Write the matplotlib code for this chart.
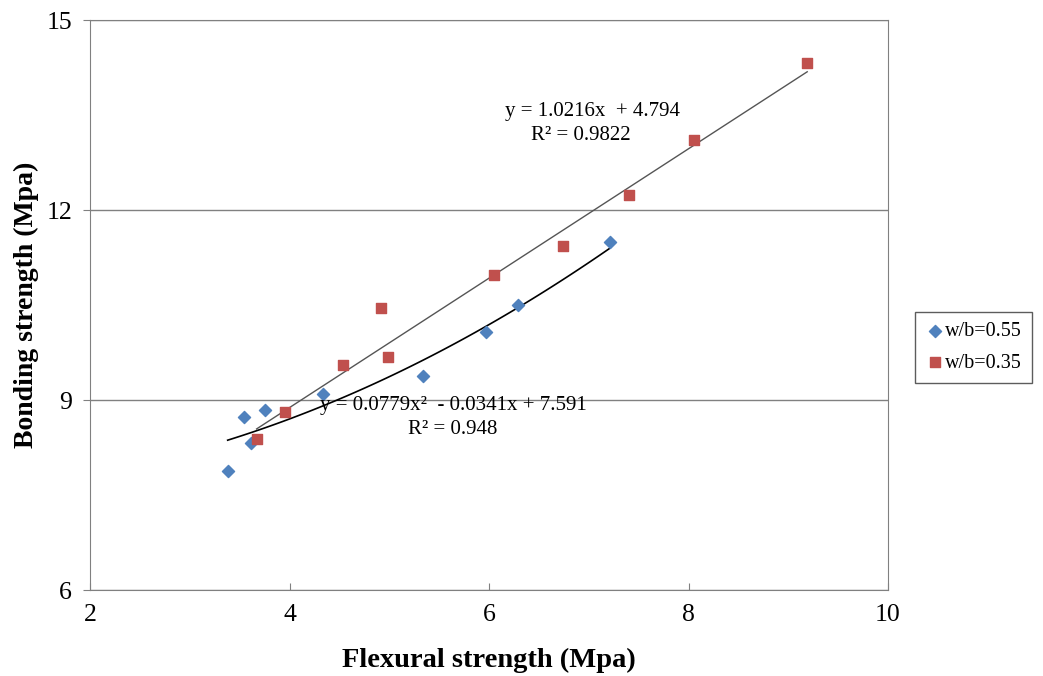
import numpy as np
import matplotlib.pyplot as plt

plt.rcParams['font.family'] = ['Liberation Serif', 'DejaVu Serif']

# w/b = 0.55
x55 = [3.38, 3.54, 3.61, 3.75, 4.34, 5.34, 5.97, 6.29, 7.21]
y55 = [7.88, 8.73, 8.32, 8.84, 9.09, 9.38, 10.07, 10.50, 11.49]
# w/b = 0.35
x35 = [3.67, 3.95, 4.54, 4.92, 4.99, 6.05, 6.74, 7.40, 8.06, 9.19]
y35 = [8.38, 8.81, 9.55, 10.45, 9.68, 10.97, 11.43, 12.24, 13.11, 14.32]

lin_coef = [1.0216, 4.794]
quad_coef = [0.0779, -0.0341, 7.591]

fig = plt.figure(figsize=(10.43, 6.76), dpi=100)
ax = fig.add_axes([0.0863, 0.1272, 0.7651, 0.8432])

ax.scatter(x55, y55, marker='D', s=38, color='#4F81BD', label='w/b=0.55', zorder=3)
ax.scatter(x35, y35, marker='s', s=55, color='#C0504D', label='w/b=0.35', zorder=3)

xl = np.linspace(min(x35), max(x35), 50)
ax.plot(xl, np.polyval(lin_coef, xl), color='#555555', lw=1.0, zorder=2)
xq = np.linspace(min(x55), max(x55), 100)
ax.plot(xq, np.polyval(quad_coef, xq), color='black', lw=1.2, zorder=2)

ax.text(7.04, 13.55, 'y = 1.0216x  + 4.794', ha='center', va='center', fontsize=15)
ax.text(6.92, 13.17, 'R² = 0.9822', ha='center', va='center', fontsize=15)
ax.text(5.64, 8.92, 'y = 0.0779x²  - 0.0341x + 7.591', ha='center', va='center', fontsize=15)
ax.text(5.64, 8.54, 'R² = 0.948', ha='center', va='center', fontsize=15)

ax.set_xlim(2, 10)
ax.set_ylim(6, 15)
ax.set_xticks([2, 4, 6, 8, 10])
ax.set_yticks([6, 9, 12, 15])
ax.yaxis.grid(True, color='#808080', lw=1.0)
ax.set_axisbelow(True)
for s in ax.spines.values():
    s.set_color('#808080')
ax.tick_params(axis='both', labelsize=18.5, color='#808080', length=5)
ax.tick_params(axis='x', direction='in', pad=10)
ax.tick_params(axis='y', direction='out', pad=8)

ax.set_xlabel('Flexural strength (Mpa)', fontsize=20.5, fontweight='bold', labelpad=16)
ax.set_ylabel('Bonding strength (Mpa)', fontsize=20, fontweight='bold', labelpad=5)

leg = fig.legend(loc='center left', bbox_to_anchor=(0.877, 0.486), fontsize=14.5,
                 frameon=True, fancybox=False, edgecolor='#333333', handletextpad=0.0,
                 borderpad=0.5, handlelength=1.0, labelspacing=0.6, borderaxespad=0)
leg.get_frame().set_linewidth(1.0)

fig.savefig('out.png', dpi=100)
